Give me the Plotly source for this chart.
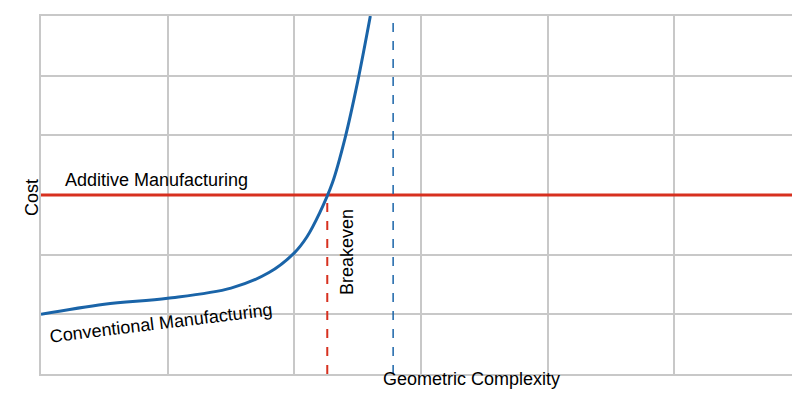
import plotly.graph_objects as go

conv_x = [0, 0.5, 1.0, 1.5, 1.8, 2.0, 2.1, 2.2, 2.3, 2.4, 2.5, 2.6]
conv_y = [1.0, 1.17, 1.27, 1.44, 1.7, 2.03, 2.3, 2.7, 3.2, 3.95, 4.9, 6.0]
am_x = [0, 6]
am_y = [3, 3]
breakeven_x = 2.26
blue_dash_x = 2.78

fig = go.Figure()
fig.add_trace(go.Scatter(x=am_x, y=am_y, mode="lines", line=dict(color="#d7301f", width=3), hoverinfo="skip"))
fig.add_trace(go.Scatter(x=conv_x, y=conv_y, mode="lines", line=dict(color="#1a64a8", width=3, shape="spline"), hoverinfo="skip"))
fig.add_trace(go.Scatter(x=[breakeven_x, breakeven_x], y=[0, 3], mode="lines", line=dict(color="#d7301f", width=2, dash="dash"), hoverinfo="skip"))
fig.add_trace(go.Scatter(x=[blue_dash_x, blue_dash_x], y=[0, 6], mode="lines", line=dict(color="#1a64a8", width=1.5, dash="dash"), hoverinfo="skip"))

f = dict(family="Liberation Sans, Arial", size=18, color="black")
fig.add_annotation(x=0.17, y=3.05, text="Additive Manufacturing", showarrow=False, xanchor="left", yanchor="bottom", font=f)
fig.add_annotation(x=0.95, y=0.85, text="Conventional Manufacturing", showarrow=False, textangle=-7, font=f)
fig.add_annotation(x=2.41, y=2.05, text="Breakeven", showarrow=False, textangle=-90, font=f)
fig.add_annotation(x=463, y=383, xref="paper", yref="paper", text="Geometric Complexity", showarrow=False, font=f)
fig.add_annotation(x=12, y=190, xref="paper", yref="paper", text="Cost", showarrow=False, textangle=-90, font=f)
# convert pixel positions to paper fractions
for a in fig.layout.annotations[3:]:
    a.x = (a.x - 33) / 760
    a.y = (366 - a.y) / 358

ax = dict(showgrid=True, gridcolor="#c8c8c8", gridwidth=1.5, showticklabels=False, zeroline=False,
          showline=True, linecolor="#c8c8c8", linewidth=1.5, mirror=True, dtick=1, fixedrange=True,
          automargin=False, ticks="")
fig.update_xaxes(range=[0, 6], **ax)
fig.update_yaxes(range=[0, 6], **ax)
fig.update_layout(width=800, height=402, margin=dict(l=33, r=7, t=8, b=36, autoexpand=False), showlegend=False,
                  plot_bgcolor="white", paper_bgcolor="white")
fig.write_html("out.html")
